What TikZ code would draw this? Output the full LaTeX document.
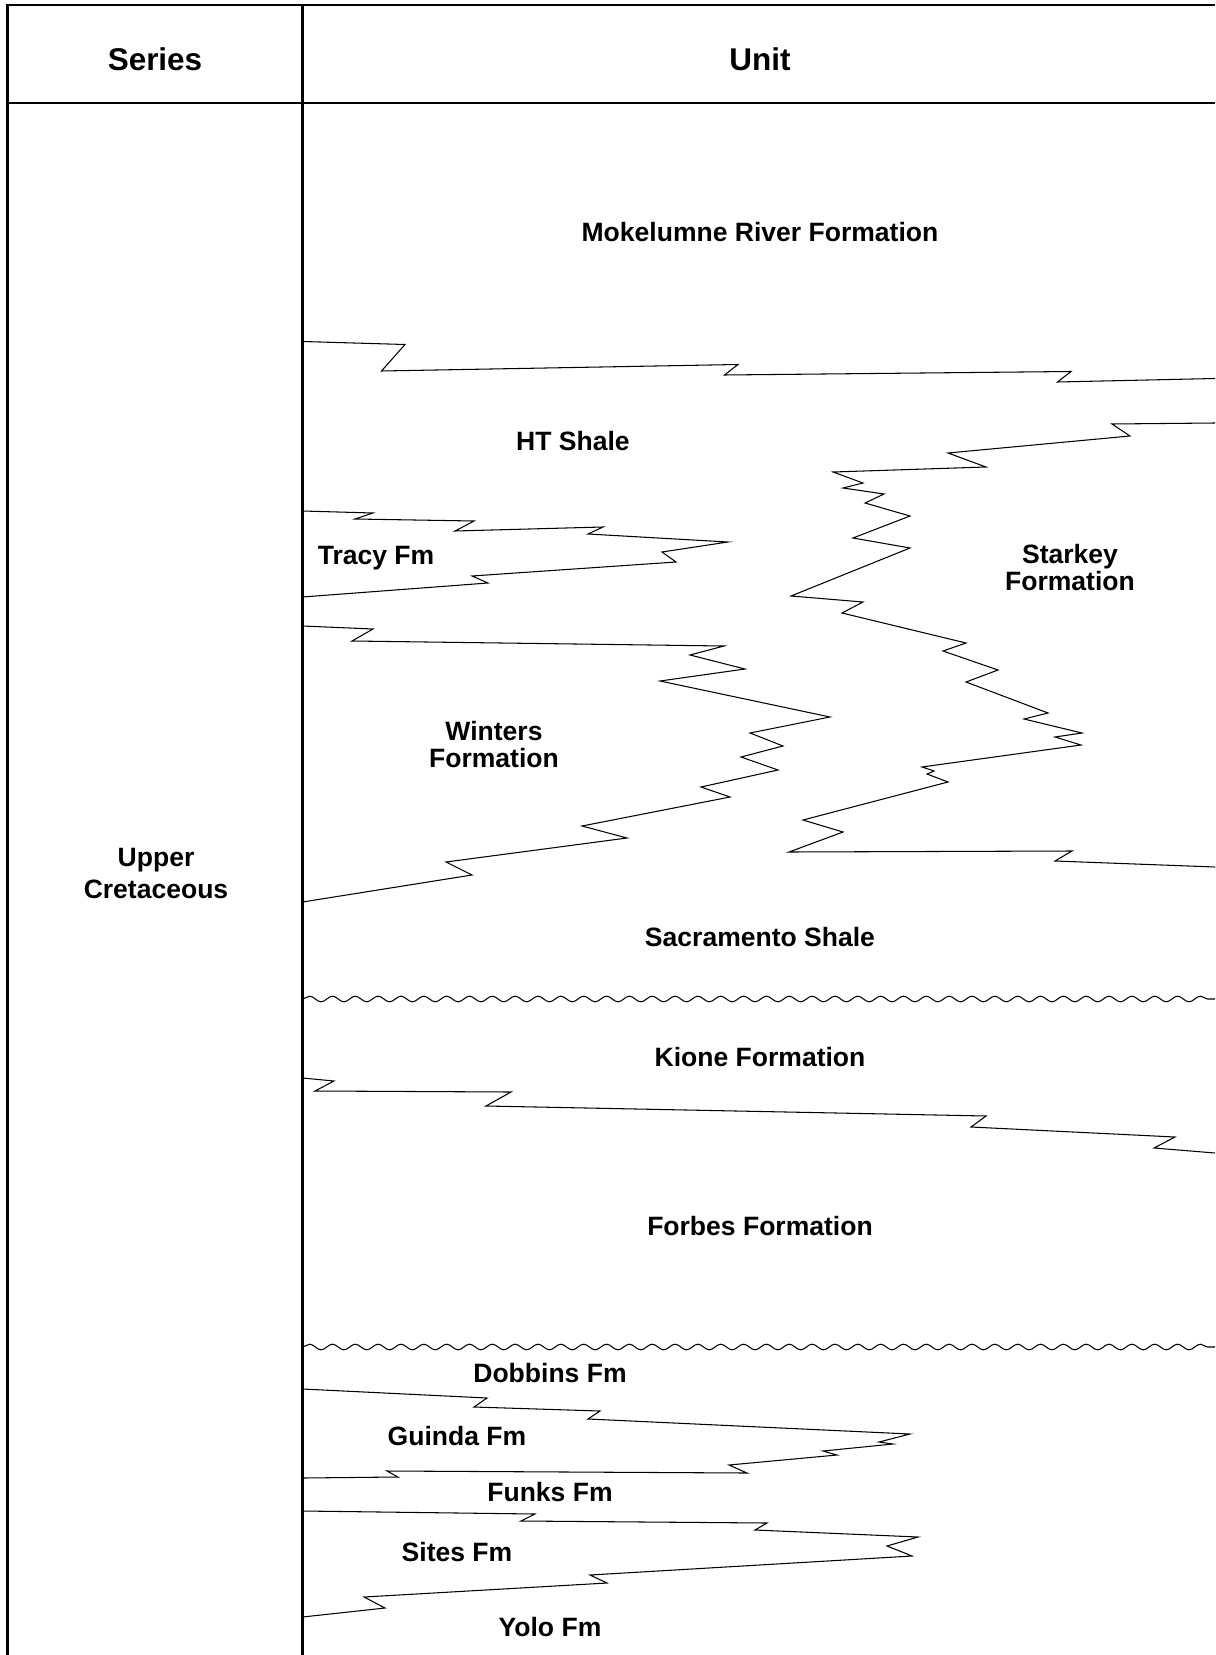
\documentclass[tikz,border=0pt]{standalone}
\usepackage{fontspec}
\setmainfont{Liberation Sans}
\usetikzlibrary{decorations.pathmorphing}
\begin{document}
\begin{tikzpicture}[x=0.02cm,y=-0.02cm,
  frame/.style={line width=1.2pt},
  sepline/.style={line width=1.7pt},
  bound/.style={line width=0.6pt, line join=miter},
  unconf/.style={line width=0.6pt, decorate, decoration={snake, amplitude=1.6pt, segment length=13pt}},
  lbl/.style={font=\fontsize{15.1}{15.2}\selectfont\bfseries, align=center, inner sep=0pt, anchor=base},
  lblbig/.style={font=\fontsize{15.1}{18}\selectfont\bfseries, align=center, inner sep=0pt, anchor=base},
  hdr/.style={font=\fontsize{17.9}{20}\selectfont\bfseries, inner sep=0pt, anchor=base}]
\useasboundingbox (0,0) rectangle (1215,1655);
\fill[white] (0,0) rectangle (1215,1655);
% table frame
\draw[frame] (1215,5) -- (7.5,5) -- (7.5,1655);
\draw[frame] (302.5,5) -- (302.5,1655);
\draw[sepline] (7.5,103) -- (1215,103);
% headers
\node[hdr] (hseries) at (155,71) {Series};
\node[hdr] (hunit) at (760,71) {Unit};
% series label (base = last line)
\node[lblbig] (upcret) at (156,898.5) {Upper\\Cretaceous};
% boundaries
\draw[bound] (302.5,341.5) -- (405,344.5) -- (381.5,371) -- (738,364.5) -- (724.5,375) -- (1071,371.5) -- (1057.5,382) -- (1215,378.5);
\draw[bound] (1215,423) -- (1112,424) -- (1130,436) -- (948,453) -- (986,467) -- (833,472) -- (863,483) -- (843,488) -- (884,494) -- (865,503) -- (910,516) -- (853,538) -- (910,548) -- (791,596) -- (863,602) -- (842,613) -- (966,643) -- (943,651) -- (998,670) -- (966,682) -- (1048,713) -- (1024,719) -- (1082,733) -- (1055,737) -- (1081,745) -- (922,767) -- (934,771) -- (927,774) -- (948,782) -- (803,820) -- (843,832) -- (789,852) -- (1072,851) -- (1055,861) -- (1215,867);
\draw[bound] (302.5,511) -- (373,513) -- (355,519) -- (474,521) -- (455,531) -- (603,527) -- (588,534) -- (728,542) -- (662,552) -- (676,562) -- (472,576) -- (488,583) -- (302.5,597);
\draw[bound] (302.5,626) -- (373,629) -- (352,641) -- (724,646) -- (690,655) -- (745,669) -- (660,681) -- (830,717) -- (750,733) -- (783,746) -- (741,757) -- (778,770) -- (701,787) -- (730,797) -- (582,826) -- (627,838) -- (446,862) -- (472,875) -- (302.5,902);
\draw[bound] (302.5,1078) -- (334,1081) -- (315,1091) -- (511,1092) -- (486,1106) -- (986,1116) -- (971,1127) -- (1175,1137) -- (1154,1148) -- (1215,1153);
\draw[bound] (302.5,1389) -- (487,1398) -- (474,1407) -- (600,1411) -- (588,1419) -- (910,1434) -- (879,1442) -- (893,1444) -- (823,1451) -- (837,1455) -- (729,1465) -- (747,1473) -- (387,1471) -- (398,1477) -- (302.5,1478);
\draw[bound] (302.5,1511) -- (535,1514) -- (521,1521) -- (767,1523) -- (755,1530) -- (918,1537) -- (887,1546) -- (912,1556) -- (590,1575) -- (607,1583) -- (364,1597) -- (385,1608) -- (302.5,1617);
% unconformities
\draw[unconf] (302.5,999) -- (1215,999);
\draw[unconf] (302.5,1347) -- (1215,1347);
% unit labels
\node[lbl] (mok) at (760,242) {Mokelumne River Formation};
\node[lbl] (ht) at (573,450) {HT Shale};
\node[lbl] (tracy) at (376,564) {Tracy Fm};
\node[lbl] (starkey) at (1070,590) {Starkey\\Formation};
\node[lbl] (winters) at (494,767) {Winters\\Formation};
\node[lbl] (sacr) at (760,946) {Sacramento Shale};
\node[lbl] (kione) at (760,1066) {Kione Formation};
\node[lbl] (forbes) at (760,1235) {Forbes Formation};
\node[lbl] (dobbins) at (550,1382) {Dobbins Fm};
\node[lbl] (guinda) at (457,1445) {Guinda Fm};
\node[lbl] (funks) at (550,1501) {Funks Fm};
\node[lbl] (sites) at (457,1561) {Sites Fm};
\node[lbl] (yolo) at (550,1636) {Yolo Fm};
\end{tikzpicture}
\end{document}
